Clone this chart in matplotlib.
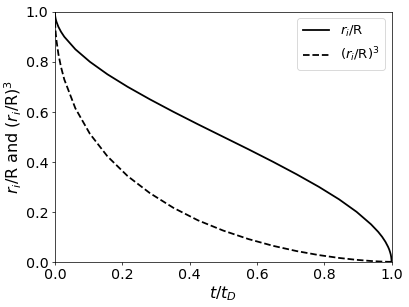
import matplotlib
matplotlib.use("Agg")
import matplotlib.pyplot as plt

# values: radius ratio and dimensionless time
r_ratio = [1.0, 0.998, 0.995, 0.99, 0.98, 0.97, 0.96, 0.94, 0.92, 0.90, 0.85, 0.80,
           0.75, 0.70, 0.65, 0.60, 0.55, 0.50, 0.45, 0.40, 0.35, 0.30, 0.25,
           0.20, 0.15, 0.12, 0.10, 0.08, 0.06, 0.05, 0.04, 0.03, 0.02, 0.01, 0.0]
t_ratio = [0.0, 0.000012, 0.000075, 0.0003, 0.0012, 0.0026, 0.0047, 0.0104, 0.0182,
           0.028, 0.0608, 0.104, 0.156, 0.216, 0.282, 0.352, 0.425, 0.500,
           0.575, 0.648, 0.718, 0.784, 0.844, 0.896, 0.939, 0.9602, 0.972,
           0.9818, 0.9896, 0.9928, 0.9953, 0.9974, 0.9988, 0.9997, 1.0]
r_cubed = [1.0, 0.994, 0.985, 0.970, 0.941, 0.913, 0.885, 0.831, 0.779, 0.729,
           0.614, 0.512, 0.422, 0.343, 0.275, 0.216, 0.166, 0.125, 0.091,
           0.064, 0.043, 0.027, 0.0156, 0.008, 0.0034, 0.0017, 0.001, 0.0005,
           0.0002, 0.000125, 0.000064, 0.000027, 0.000008, 0.000001, 0.0]

fig, ax = plt.subplots(figsize=(6.4, 4.8), dpi=64)
ax.plot(t_ratio, r_ratio, color='k', linestyle='-', lw=2, label=r'$r_i$/R')
ax.plot(t_ratio, r_cubed, color='k', linestyle='--', lw=2, label=r'$(r_i$/R$)^3$')
ax.set_xlim(0, 1)
ax.set_ylim(0, 1)
ax.set_xlabel(r'$t/t_D$', fontsize=18, labelpad=2)
ax.set_ylabel(r'$r_i$/R and ($r_i$/R)$^3$', fontsize=18, labelpad=2)
ax.tick_params(labelsize=16)
ax.legend(fontsize=15, loc='upper right')
fig.subplots_adjust(left=0.134, right=0.956, top=0.961, bottom=0.147)
fig.savefig('out.png', dpi=64)
